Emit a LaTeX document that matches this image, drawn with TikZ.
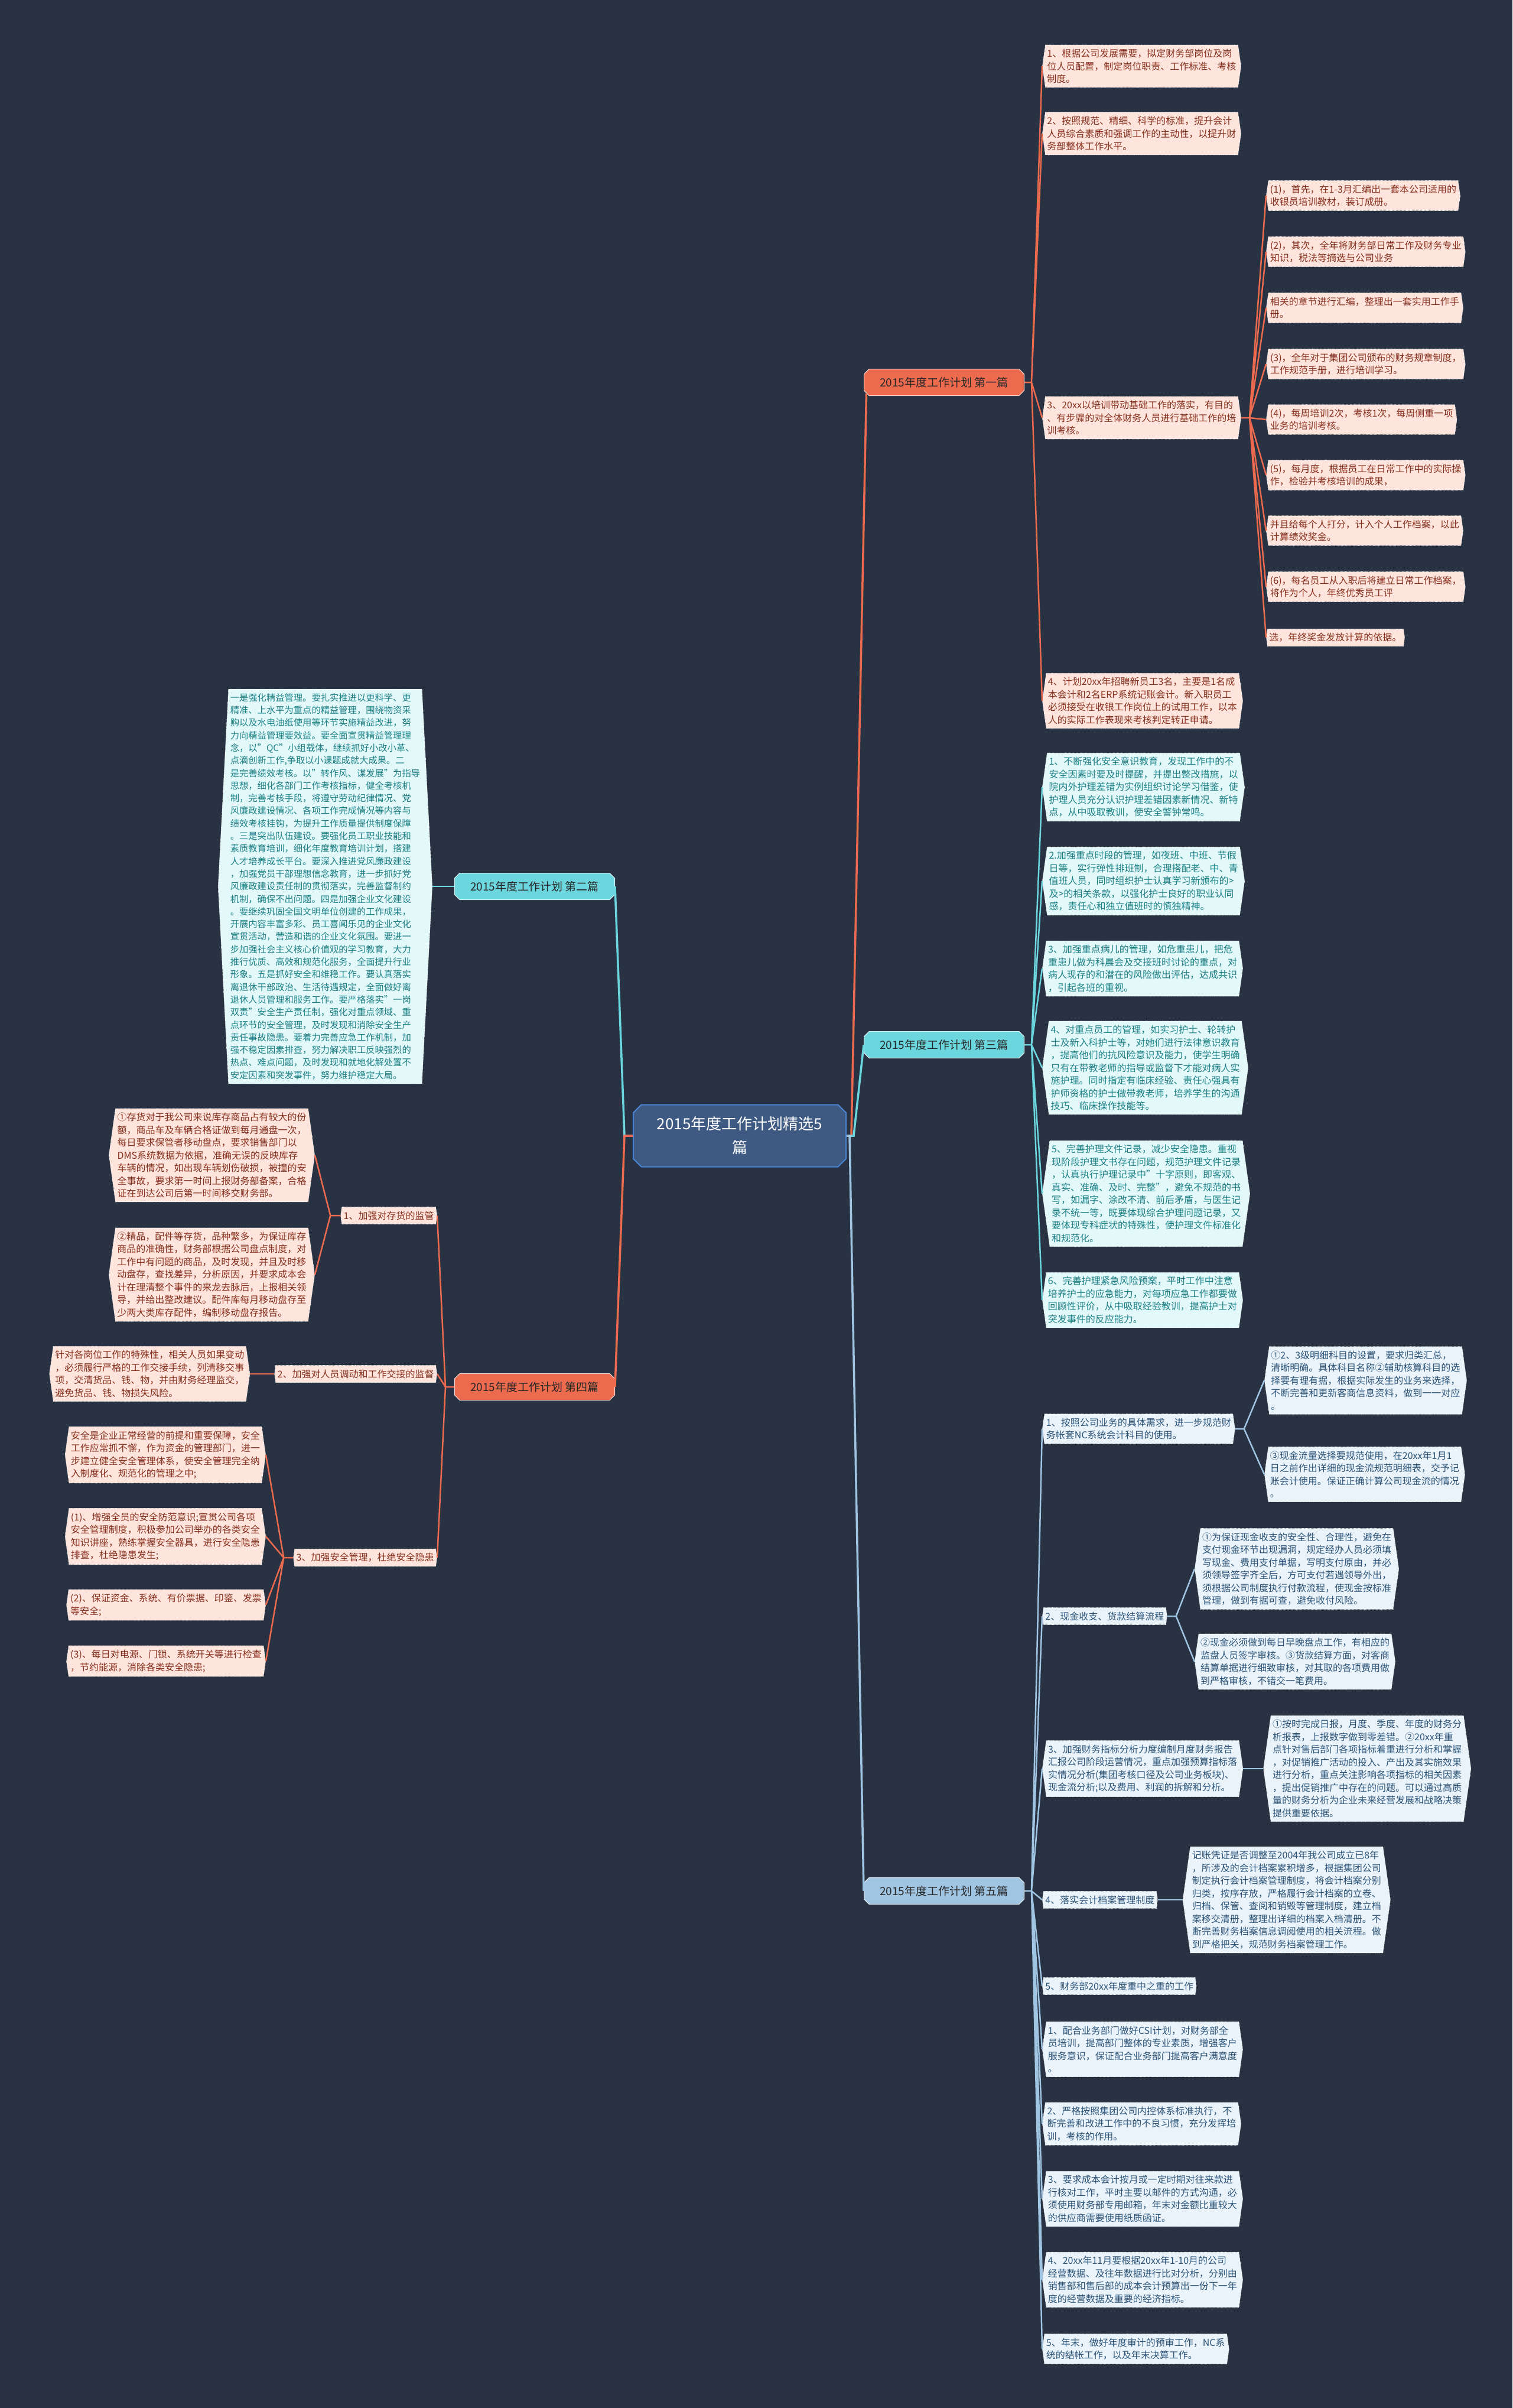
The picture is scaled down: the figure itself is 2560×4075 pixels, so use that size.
\documentclass[tikz,border=0pt]{standalone}
\usepackage{fontspec}
\setmainfont{Noto Sans CJK SC}
\usetikzlibrary{positioning}
\usetikzlibrary{shapes.misc}
\usetikzlibrary{shapes.symbols}
\definecolor{bgnavy}{RGB}{41,50,66}
\definecolor{coral}{RGB}{236,106,78}
\definecolor{peachfill}{RGB}{253,228,220}
\definecolor{peachtext}{RGB}{135,48,30}
\definecolor{aqua}{RGB}{108,214,222}
\definecolor{aquafill}{RGB}{226,248,249}
\definecolor{aquatext}{RGB}{28,128,134}
\definecolor{skyblue}{RGB}{160,197,226}
\definecolor{skyfill}{RGB}{234,243,250}
\definecolor{skytext}{RGB}{44,84,120}
\definecolor{hubfill}{RGB}{62,90,130}
\definecolor{hubline}{RGB}{72,130,208}
\definecolor{topictext}{RGB}{40,40,40}
\tikzset{
  hub/.style={chamfered rectangle, chamfered rectangle xsep=10pt, fill=hubfill, draw=hubline,
    line width=2pt, text=white, align=center, font=\fontsize{26}{40}\selectfont,
    minimum width=360, minimum height=105},
  topic/.style={chamfered rectangle, chamfered rectangle xsep=5pt, fill=#1, draw=white!75!#1,
    line width=1pt, text=topictext, font=\fontsize{19}{23}\selectfont,
    minimum width=271, minimum height=45},
  leaf/.style={signal, signal to=west and east, signal pointer angle=164, draw=white,
    densely dotted, line width=0.8pt, inner xsep=3pt, inner ysep=7pt, align=left,
    font=\fontsize{16}{21.5}\selectfont},
  redleaf/.style={leaf, fill=peachfill, text=peachtext},
  aqualeaf/.style={leaf, fill=aquafill, text=aquatext},
  skyleaf/.style={leaf, fill=skyfill, text=skytext},
  limb/.style={line width=3.5pt, draw=#1},
  twig/.style={line width=2.5pt, draw=#1},
}
\begin{document}
\begin{tikzpicture}[x=1pt, y=-1pt]
    \fill[bgnavy] (0,0) rectangle (2560,4075);
    \useasboundingbox (0,0) rectangle (2560,4075);

    \node[hub] (hub) at (1252,1922) {2015年度工作计划精选5\\篇};

    % Topics
    \node[topic=coral] (plan1) at (1598,647) {2015年度工作计划 第一篇};
    \node[topic=aqua] (plan2) at (905,1500) {2015年度工作计划 第二篇};
    \node[topic=aqua] (plan3) at (1598,1768) {2015年度工作计划 第三篇};
    \node[topic=coral] (plan4) at (905,2347) {2015年度工作计划 第四篇};
    \node[topic=skyblue] (plan5) at (1598,3200) {2015年度工作计划 第五篇};

    % First plan
    \node[redleaf, anchor=west] (a1) at (1764,112) {1、根据公司发展需要，拟定财务部岗位及岗\\位人员配置，制定岗位职责、工作标准、考核\\制度。};
    \node[redleaf, anchor=west] (a2) at (1764,226) {2、按照规范、精细、科学的标准，提升会计\\人员综合素质和强调工作的主动性，以提升财\\务部整体工作水平。};
    \node[redleaf, anchor=west] (a3) at (1764,707) {3、20xx以培训带动基础工作的落实，有目的\\、有步骤的对全体财务人员进行基础工作的培\\训考核。};
    \node[redleaf, anchor=west] (a4) at (1764,1186) {4、计划20xx年招聘新员工3名，主要是1名成\\本会计和2名ERP系统记账会计。新入职员工\\必须接受在收银工作岗位上的试用工作，以本\\人的实际工作表现来考核判定转正申请。};
    \node[redleaf, anchor=west] (s1) at (2143,331) {(1)，首先，在1-3月汇编出一套本公司适用的\\收银员培训教材，装订成册。};
    \node[redleaf, anchor=west] (s2) at (2143,426) {(2)，其次，全年将财务部日常工作及财务专业\\知识，税法等摘选与公司业务};
    \node[redleaf, anchor=west] (s3) at (2143,521) {相关的章节进行汇编，整理出一套实用工作手\\册。};
    \node[redleaf, anchor=west] (s4) at (2143,616) {(3)，全年对于集团公司颁布的财务规章制度，\\工作规范手册，进行培训学习。};
    \node[redleaf, anchor=west] (s5) at (2143,710) {(4)，每周培训2次，考核1次，每周侧重一项\\业务的培训考核。};
    \node[redleaf, anchor=west] (s6) at (2143,804) {(5)，每月度，根据员工在日常工作中的实际操\\作，检验并考核培训的成果，};
    \node[redleaf, anchor=west] (s7) at (2143,898) {并且给每个人打分，计入个人工作档案，以此\\计算绩效奖金。};
    \node[redleaf, anchor=west] (s8) at (2143,993) {(6)，每名员工从入职后将建立日常工作档案，\\将作为个人，年终优秀员工评};
    \node[redleaf, anchor=west] (s9) at (2143,1079) {选，年终奖金发放计算的依据。};

    % Second plan
    \node[aqualeaf, signal pointer angle=174, font=\fontsize{15.3}{21.3}\selectfont, left=37pt of plan2] (bk) {一是强化精益管理。要扎实推进以更科学、更\\精准、上水平为重点的精益管理，围绕物资采\\购以及水电油纸使用等环节实施精益改进，努\\力向精益管理要效益。要全面宣贯精益管理理\\念，以"QC"小组载体，继续抓好小改小革、\\点滴创新工作,争取以小课题成就大成果。二\\是完善绩效考核。以"转作风、谋发展"为指导\\思想，细化各部门工作考核指标，健全考核机\\制，完善考核手段，将遵守劳动纪律情况、党\\风廉政建设情况、各项工作完成情况等内容与\\绩效考核挂钩，为提升工作质量提供制度保障\\。三是突出队伍建设。要强化员工职业技能和\\素质教育培训，细化年度教育培训计划，搭建\\人才培养成长平台。要深入推进党风廉政建设\\，加强党员干部理想信念教育，进一步抓好党\\风廉政建设责任制的贯彻落实，完善监督制约\\机制，确保不出问题。四是加强企业文化建设\\。要继续巩固全国文明单位创建的工作成果，\\开展内容丰富多彩、员工喜闻乐见的企业文化\\宣贯活动，营造和谐的企业文化氛围。要进一\\步加强社会主义核心价值观的学习教育，大力\\推行优质、高效和规范化服务，全面提升行业\\形象。五是抓好安全和维稳工作。要认真落实\\离退休干部政治、生活待遇规定，全面做好离\\退休人员管理和服务工作。要严格落实"一岗\\双责"安全生产责任制，强化对重点领域、重\\点环节的安全管理，及时发现和消除安全生产\\责任事故隐患。要着力完善应急工作机制，加\\强不稳定因素排查，努力解决职工反映强烈的\\热点、难点问题，及时发现和就地化解处置不\\安定因素和突发事件，努力维护稳定大局。};

    % Third plan
    \node[aqualeaf, anchor=west] (c1) at (1764,1332) {1、不断强化安全意识教育，发现工作中的不\\安全因素时要及时提醒，并提出整改措施，以\\院内外护理差错为实例组织讨论学习借鉴，使\\护理人员充分认识护理差错因素新情况、新特\\点，从中吸取教训，使安全警钟常鸣。};
    \node[aqualeaf, anchor=west] (c2) at (1764,1491) {2.加强重点时段的管理，如夜班、中班、节假\\日等，实行弹性排班制，合理搭配老、中、青\\值班人员，同时组织护士认真学习新颁布的>\\及>的相关条款，以强化护士良好的职业认同\\感，责任心和独立值班时的慎独精神。};
    \node[aqualeaf, anchor=west] (c3) at (1764,1639) {3、加强重点病儿的管理，如危重患儿，把危\\重患儿做为科晨会及交接班时讨论的重点，对\\病人现存的和潜在的风险做出评估，达成共识\\，引起各班的重视。};
    \node[aqualeaf, anchor=west] (c4) at (1764,1807) {4、对重点员工的管理，如实习护士、轮转护\\士及新入科护士等，对她们进行法律意识教育\\，提高他们的抗风险意识及能力，使学生明确\\只有在带教老师的指导或监督下才能对病人实\\施护理。同时指定有临床经验、责任心强具有\\护师资格的护士做带教老师，培养学生的沟通\\技巧、临床操作技能等。};
    \node[aqualeaf, anchor=west] (c5) at (1764,2020) {5、完善护理文件记录，减少安全隐患。重视\\现阶段护理文书存在问题，规范护理文件记录\\，认真执行护理记录中"十字原则，即客观、\\真实、准确、及时、完整"，避免不规范的书\\写，如漏字、涂改不清、前后矛盾，与医生记\\录不统一等，既要体现综合护理问题记录，又\\要体现专科症状的特殊性，使护理文件标准化\\和规范化。};
    \node[aqualeaf, anchor=west] (c6) at (1764,2200) {6、完善护理紧急风险预案，平时工作中注意\\培养护士的应急能力，对每项应急工作都要做\\回顾性评价，从中吸取经验教训，提高护士对\\突发事件的反应能力。};

    % Fourth plan
    \node[redleaf, anchor=east] (d1) at (740,2057) {1、加强对存货的监管};
    \node[redleaf, anchor=east] (d2) at (740,2325) {2、加强对人员调动和工作交接的监督};
    \node[redleaf, anchor=east] (d3) at (740,2636) {3、加强安全管理，杜绝安全隐患};
    \node[redleaf, anchor=east] (d1a) at (533,1955) {①存货对于我公司来说库存商品占有较大的份\\额，商品车及车辆合格证做到每月通盘一次，\\每日要求保管者移动盘点，要求销售部门以\\DMS系统数据为依据，准确无误的反映库存\\车辆的情况，如出现车辆划伤破损，被撞的安\\全事故，要求第一时间上报财务部备案，合格\\证在到达公司后第一时间移交财务部。};
    \node[redleaf, anchor=east] (d1b) at (533,2157) {②精品，配件等存货，品种繁多，为保证库存\\商品的准确性，财务部根据公司盘点制度，对\\工作中有问题的商品，及时发现，并且及时移\\动盘存，查找差异，分析原因，并要求成本会\\计在理清整个事件的来龙去脉后，上报相关领\\导，并给出整改建议。配件库每月移动盘存至\\少两大类库存配件，编制移动盘存报告。};
    \node[redleaf, left=41pt of d2] (d2a) {针对各岗位工作的特殊性，相关人员如果变动\\，必须履行严格的工作交接手续，列清移交事\\项，交清货品、钱、物，并由财务经理监交，\\避免货品、钱、物损失风险。};
    \node[redleaf, anchor=east] (d3a) at (450,2462) {安全是企业正常经营的前提和重要保障，安全\\工作应常抓不懈，作为资金的管理部门，进一\\步建立健全安全管理体系，使安全管理完全纳\\入制度化、规范化的管理之中;};
    \node[redleaf, anchor=east] (d3b) at (450,2600) {(1)、增强全员的安全防范意识;宣贯公司各项\\安全管理制度，积极参加公司举办的各类安全\\知识讲座，熟练掌握安全器具，进行安全隐患\\排查，杜绝隐患发生;};
    \node[redleaf, anchor=east] (d3c) at (450,2716) {(2)、保证资金、系统、有价票据、印鉴、发票\\等安全;};
    \node[redleaf, anchor=east] (d3d) at (450,2811) {(3)、每日对电源、门锁、系统开关等进行检查\\，节约能源，消除各类安全隐患;};

    % Fifth plan
    \node[skyleaf, anchor=west] (e1) at (1764,2418) {1、按照公司业务的具体需求，进一步规范财\\务帐套NC系统会计科目的使用。};
    \node[skyleaf, anchor=west] (e2) at (1764,2735) {2、现金收支、货款结算流程};
    \node[skyleaf, anchor=west] (e3) at (1764,2993) {3、加强财务指标分析力度编制月度财务报告\\汇报公司阶段运营情况，重点加强预算指标落\\实情况分析(集团考核口径及公司业务板块)、\\现金流分析;以及费用、利润的拆解和分析。};
    \node[skyleaf, anchor=west] (e4) at (1764,3215) {4、落实会计档案管理制度};
    \node[skyleaf, anchor=west] (e5) at (1764,3361) {5、财务部20xx年度重中之重的工作};
    \node[skyleaf, anchor=west] (e6) at (1764,3468) {1、配合业务部门做好CSI计划，对财务部全\\员培训，提高部门整体的专业素质，增强客户\\服务意识，保证配合业务部门提高客户满意度\\。};
    \node[skyleaf, anchor=west] (e7) at (1764,3594) {2、严格按照集团公司内控体系标准执行，不\\断完善和改进工作中的不良习惯，充分发挥培\\训，考核的作用。};
    \node[skyleaf, anchor=west] (e8) at (1764,3721) {3、要求成本会计按月或一定时期对往来款进\\行核对工作，平时主要以邮件的方式沟通，必\\须使用财务部专用邮箱，年末对金额比重较大\\的供应商需要使用纸质函证。};
    \node[skyleaf, anchor=west] (e9) at (1764,3858) {4、20xx年11月要根据20xx年1-10月的公司\\经营数据、及往年数据进行比对分析，分别由\\销售部和售后部的成本会计预算出一份下一年\\度的经营数据及重要的经济指标。};
    \node[skyleaf, anchor=west] (e10) at (1764,3975) {5、年末，做好年度审计的预审工作，NC系\\统的结帐工作，以及年末决算工作。};
    \node[skyleaf, anchor=west] (e1a) at (2140,2336) {①2、3级明细科目的设置，要求归类汇总，\\清晰明确。具体科目名称②辅助核算科目的选\\择要有理有据，根据实际发生的业务来选择，\\不断完善和更新客商信息资料，做到一一对应\\。};
    \node[skyleaf, anchor=west] (e1b) at (2140,2495) {③现金流量选择要规范使用，在20xx年1月1\\日之前作出详细的现金流规范明细表，交予记\\账会计使用。保证正确计算公司现金流的情况\\。};
    \node[skyleaf, anchor=west] (e2a) at (2022,2655) {①为保证现金收支的安全性、合理性，避免在\\支付现金环节出现漏洞，规定经办人员必须填\\写现金、费用支付单据，写明支付原由，并必\\须领导签字齐全后，方可支付若遇领导外出，\\须根据公司制度执行付款流程，使现金按标准\\管理，做到有据可查，避免收付风险。};
    \node[skyleaf, anchor=west] (e2b) at (2022,2812) {②现金必须做到每日早晚盘点工作，有相应的\\监盘人员签字审核。③货款结算方面，对客商\\结算单据进行细致审核，对其取的各项费用做\\到严格审核，不错交一笔费用。};
    \node[skyleaf, right=34pt of e3] (e3a) {①按时完成日报，月度、季度、年度的财务分\\析报表，上报数字做到零差错。②20xx年重\\点针对售后部门各项指标着重进行分析和掌握\\，对促销推广活动的投入、产出及其实施效果\\进行分析，重点关注影响各项指标的相关因素\\，提出促销推广中存在的问题。可以通过高质\\量的财务分析为企业未来经营发展和战略决策\\提供重要依据。};
    \node[skyleaf, right=42pt of e4] (e4a) {记账凭证是否调整至2004年我公司成立已8年\\，所涉及的会计档案累积增多，根据集团公司\\制定执行会计档案管理制度，将会计档案分别\\归类，按序存放，严格履行会计档案的立卷、\\归档、保管、查阅和销毁等管理制度，建立档\\案移交清册，整理出详细的档案入档清册。不\\断完善财务档案信息调阅使用的相关流程。做\\到严格把关，规范财务档案管理工作。};

    % Links from the hub
    \draw[limb=coral] (hub.east) -- ++(8,0) -- (plan1.south west);
    \draw[limb=aqua] (hub.east) -- ++(12,0) -- (plan3.west);
    \draw[limb=skyblue] (hub.east) -- ++(5,0) -- (plan5.west);
    \draw[limb=aqua] (hub.west) -- ++(-14,0) -- (plan2.east);
    \draw[limb=coral] (hub.west) -- ++(-14,0) -- (plan4.east);

    % Branch links
    \draw[twig=coral] (plan1.east) -- ++(12,0) coordinate (fa)
      (fa) -- (a1.west) (fa) -- (a2.west) (fa) -- (a3.west) (fa) -- (a4.west);
    \draw[twig=coral] (a3.east) -- ++(14,0) coordinate (fs)
      (fs) -- (s1.west) (fs) -- (s2.west) (fs) -- (s3.west) (fs) -- (s4.west) (fs) -- (s5.west)
      (fs) -- (s6.west) (fs) -- (s7.west) (fs) -- (s8.west) (fs) -- (s9.west);
    \draw[twig=aqua] (plan2.west) -- (bk.east);
    \draw[twig=aqua] (plan3.east) -- ++(12,0) coordinate (fc)
      (fc) -- (c1.west) (fc) -- (c2.west) (fc) -- (c3.west) (fc) -- (c4.west) (fc) -- (c5.west) (fc) -- (c6.west);
    \draw[twig=coral] (plan4.west) -- ++(-15,0) coordinate (fd)
      (fd) -- (d1.east) (fd) -- (d2.east) (fd) -- (d3.east);
    \draw[twig=coral] (d1.west) -- ++(-17,0) coordinate (fd1) (fd1) -- (d1a.east) (fd1) -- (d1b.east);
    \draw[twig=coral] (d2.west) -- (d2a.east);
    \draw[twig=coral] (d3.west) -- ++(-16,0) coordinate (fd3)
      (fd3) -- (d3a.east) (fd3) -- (d3b.east) (fd3) -- (d3c.east) (fd3) -- (d3d.east);
    \draw[twig=skyblue] (plan5.east) -- ++(12,0) coordinate (fe)
      (fe) -- (e1.west) (fe) -- (e2.west) (fe) -- (e3.west) (fe) -- (e4.west) (fe) -- (e5.west)
      (fe) -- (e6.west) (fe) -- (e7.west) (fe) -- (e8.west) (fe) -- (e9.west) (fe) -- (e10.west);
    \draw[twig=skyblue] (e1.east) -- ++(15,0) coordinate (fe1) (fe1) -- (e1a.west) (fe1) -- (e1b.west);
    \draw[twig=skyblue] (e2.east) -- ++(15,0) coordinate (fe2) (fe2) -- (e2a.west) (fe2) -- (e2b.west);
    \draw[twig=skyblue] (e3.east) -- (e3a.west);
    \draw[twig=skyblue] (e4.east) -- (e4a.west);
\end{tikzpicture}
\end{document}
